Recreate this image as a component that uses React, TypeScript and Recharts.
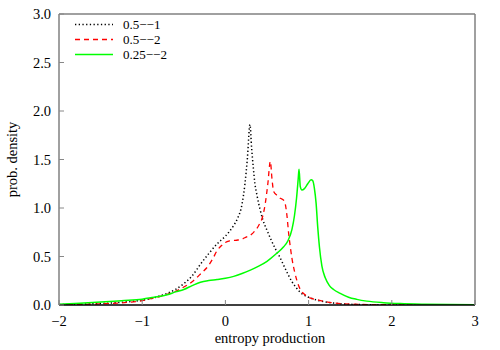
import { LineChart, Line, XAxis, YAxis, Legend } from "recharts";

const xTicks = [-2, -1, 0, 1, 2, 3];
const yTicks = [0, 0.5, 1, 1.5, 2, 2.5, 3];

// 0.5--1 (black dotted)
const blackX = [-2, -1.75, -1.5, -1.25, -1, -0.9, -0.8, -0.7, -0.6, -0.5, -0.4, -0.3, -0.2, -0.1, 0, 0.05, 0.1, 0.15, 0.2, 0.235, 0.265, 0.295, 0.315, 0.335, 0.355, 0.38, 0.415, 0.45, 0.5, 0.55, 0.6, 0.65, 0.7, 0.75, 0.8, 0.85, 0.9, 0.95, 1, 1.1, 1.2, 1.3, 1.4, 1.5, 1.7, 2, 2.5, 3];
const blackY = [0.004, 0.008, 0.015, 0.028, 0.05, 0.065, 0.09, 0.12, 0.16, 0.22, 0.3, 0.42, 0.53, 0.63, 0.71, 0.76, 0.82, 0.9, 1.04, 1.25, 1.52, 1.86, 1.62, 1.42, 1.25, 1.13, 0.99, 0.88, 0.77, 0.67, 0.58, 0.5, 0.41, 0.32, 0.24, 0.18, 0.13, 0.1, 0.08, 0.05, 0.032, 0.02, 0.012, 0.007, 0.003, 0.001, 0, 0];

// 0.5--2 (red dashed)
const redX = [-2, -1.5, -1.25, -1, -0.9, -0.8, -0.7, -0.6, -0.5, -0.4, -0.3, -0.2, -0.15, -0.1, -0.05, 0, 0.05, 0.1, 0.15, 0.2, 0.25, 0.3, 0.35, 0.4, 0.45, 0.48, 0.51, 0.54, 0.56, 0.58, 0.62, 0.66, 0.7, 0.72, 0.74, 0.76, 0.78, 0.8, 0.83, 0.86, 0.9, 0.95, 1, 1.1, 1.2, 1.3, 1.4, 1.5, 1.75, 2, 2.5, 3];
const redY = [0.003, 0.012, 0.022, 0.045, 0.065, 0.085, 0.11, 0.14, 0.185, 0.24, 0.32, 0.41, 0.48, 0.56, 0.61, 0.645, 0.66, 0.665, 0.67, 0.68, 0.7, 0.72, 0.76, 0.82, 0.92, 1.05, 1.25, 1.48, 1.3, 1.17, 1.13, 1.1, 1.08, 1.04, 0.92, 0.74, 0.6, 0.48, 0.35, 0.25, 0.16, 0.11, 0.08, 0.055, 0.035, 0.022, 0.014, 0.009, 0.004, 0.002, 0.001, 0];

// 0.25--2 (green solid)
const greenX = [-2, -1.75, -1.5, -1.25, -1, -0.9, -0.8, -0.7, -0.6, -0.5, -0.4, -0.3, -0.2, -0.1, 0, 0.1, 0.2, 0.3, 0.4, 0.5, 0.6, 0.7, 0.75, 0.8, 0.83, 0.855, 0.875, 0.885, 0.9, 0.92, 0.95, 0.99, 1.03, 1.05, 1.07, 1.09, 1.11, 1.13, 1.16, 1.2, 1.25, 1.3, 1.38, 1.48, 1.58, 1.7, 1.9, 2.1, 2.4, 2.7, 3];
const greenY = [0.008, 0.018, 0.03, 0.045, 0.06, 0.075, 0.088, 0.105, 0.135, 0.16, 0.2, 0.235, 0.252, 0.262, 0.275, 0.295, 0.325, 0.36, 0.4, 0.45, 0.52, 0.6, 0.66, 0.78, 0.92, 1.1, 1.3, 1.4, 1.22, 1.185, 1.2, 1.25, 1.29, 1.28, 1.2, 1.05, 0.8, 0.6, 0.4, 0.28, 0.2, 0.16, 0.12, 0.08, 0.058, 0.04, 0.024, 0.015, 0.008, 0.004, 0.002];

const zip = (xs: number[], ys: number[]) => xs.map((x, i) => ({ x, y: ys[i] }));

const series = [
  { name: "0.5--1", color: "#000000", dash: "1.3 2.4", width: 1.5, data: zip(blackX, blackY) },
  { name: "0.5--2", color: "#ff0000", dash: "5 4", width: 1.3, data: zip(redX, redY) },
  { name: "0.25--2", color: "#00ff00", dash: undefined, width: 1.5, data: zip(greenX, greenY) },
];

const font = "Liberation Serif";
const textStyle = { fontFamily: font, fontSize: "14.5px" };

const fmtX = (v: number) => (v < 0 ? "\u2212" + Math.abs(v) : String(v));
const fmtY = (v: number) => v.toFixed(1);

function LegendBox() {
  return (
    <div style={{ fontFamily: font, fontSize: "13px", lineHeight: "15px" }}>
      {series.map((s) => (
        <div key={s.name} style={{ display: "flex", alignItems: "center", height: 15 }}>
          <svg width={40} height={15}>
            <line x1={0} x2={38} y1={7.5} y2={7.5} stroke={s.color} strokeWidth={s.width} strokeDasharray={s.dash} />
          </svg>
          <span style={{ marginLeft: 8 }}>{s.name.replace(/-/g, "\u2212")}</span>
        </div>
      ))}
    </div>
  );
}

function XLabel({ viewBox }: any) {
  const { x, y, width } = viewBox;
  return (
    <text x={x + width / 2 + 3} y={y + 38} textAnchor="middle" style={textStyle} fill="#000">
      entropy production
    </text>
  );
}

function YLabel({ viewBox }: any) {
  const { x, y, height } = viewBox;
  const cx = x + 17;
  const cy = y + height / 2;
  return (
    <text x={cx} y={cy} textAnchor="middle" transform={`rotate(-90 ${cx} ${cy})`} style={textStyle} fill="#000">
      prob. density
    </text>
  );
}

export default function App() {
  return (
    <div style={{ position: "absolute", left: 0, top: 0, width: 500, height: 350, background: "#fff" }}>
      <LineChart width={500} height={350} margin={{ top: 0, right: 0, bottom: 0, left: 0 }}>
        <XAxis
          dataKey="x"
          type="number"
          domain={[-2, 3]}
          ticks={xTicks}
          allowDataOverflow
          height={45}
          tickFormatter={fmtX}
          tickSize={-5}
          tickMargin={16}
          tickLine={{ stroke: "#888" }}
          axisLine={{ stroke: "#000", strokeWidth: 1.5 }}
          tick={{ fill: "#000", style: textStyle }}
          label={<XLabel />}
        />
        <XAxis
          xAxisId="top"
          orientation="top"
          type="number"
          domain={[-2, 3]}
          ticks={xTicks}
          allowDataOverflow
          height={14}
          tick={false}
          tickSize={-5}
          tickLine={{ stroke: "#888" }}
          axisLine={{ stroke: "#808080", strokeWidth: 1.5 }}
        />
        <YAxis
          type="number"
          domain={[0, 3]}
          ticks={yTicks}
          allowDataOverflow
          width={59}
          tickFormatter={fmtY}
          tickSize={-5}
          tickMargin={13}
          tickLine={{ stroke: "#888" }}
          axisLine={{ stroke: "#808080", strokeWidth: 1.5 }}
          tick={{ fill: "#000", style: textStyle }}
          label={<YLabel />}
        />
        <YAxis
          yAxisId="right"
          orientation="right"
          type="number"
          domain={[0, 3]}
          ticks={yTicks}
          allowDataOverflow
          width={25}
          tick={false}
          tickSize={-5}
          tickLine={{ stroke: "#888" }}
          axisLine={{ stroke: "#808080", strokeWidth: 1.5 }}
        />
        {series.map((s) => (
          <Line
            key={s.name}
            data={s.data}
            dataKey="y"
            name={s.name}
            type="monotone"
            stroke={s.color}
            strokeWidth={s.width}
            strokeDasharray={s.dash}
            dot={false}
            activeDot={false}
            isAnimationActive={false}
          />
        ))}
        <Legend
          layout="vertical"
          align="center"
          verticalAlign="middle"
          content={<LegendBox />}
          wrapperStyle={{ top: 17, left: 75, width: "auto", height: "auto" }}
        />
      </LineChart>
    </div>
  );
}
